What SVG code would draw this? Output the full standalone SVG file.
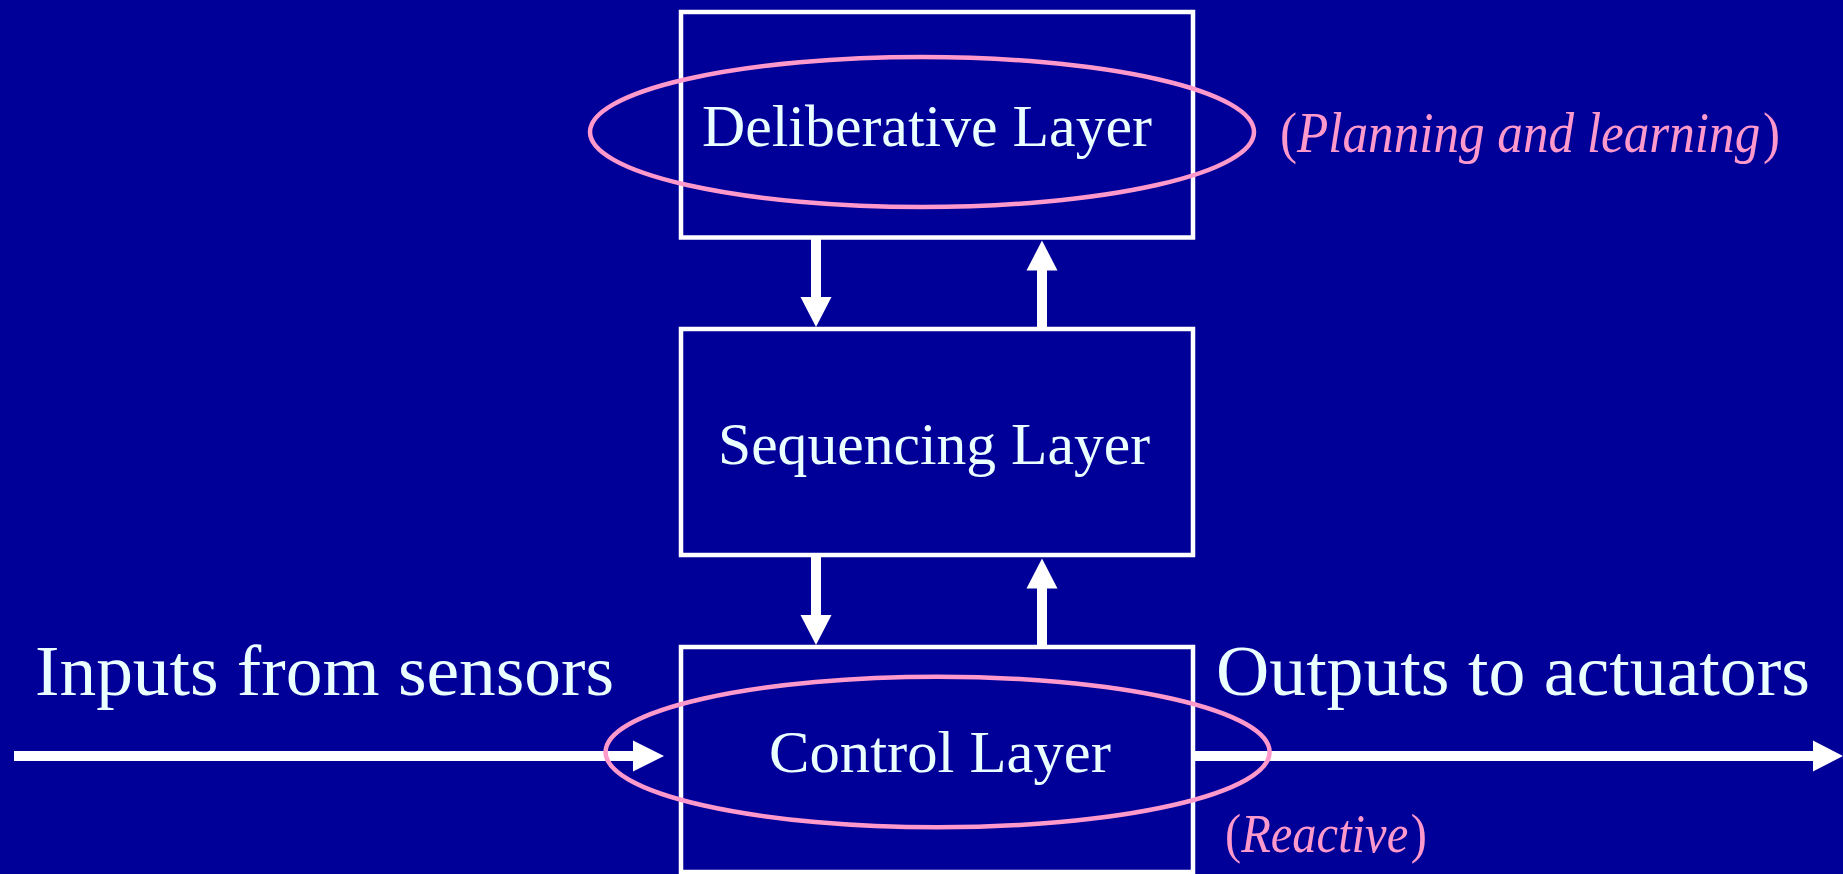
<svg xmlns="http://www.w3.org/2000/svg" width="1843" height="874" viewBox="0 0 1843 874">
  <style>
    .layer { fill: none; stroke: #ffffff; stroke-width: 4.5; }
    .halo { fill: none; stroke: #ff99cc; stroke-width: 4.5; }
    .label { font-family: "Liberation Serif", "Times New Roman", serif; fill: #eaffff; }
    .note { font-family: "Liberation Serif", "Times New Roman", serif; fill: #ff99cc; }
    .shaft { stroke: #ffffff; stroke-width: 10; fill: none; }
    .head { fill: #ffffff; }
    .it { font-style: italic; }
  </style>

  <!-- background -->
  <rect x="0" y="0" width="1843" height="874" fill="#000099"/>

  <!-- connectors between layers and to the outside world -->
  <g id="connectors">
    <!-- deliberative -> sequencing -->
    <line class="shaft" x1="816" y1="239" x2="816" y2="298"/>
    <polygon class="head" points="800.5,297 831.5,297 816,327"/>
    <!-- sequencing -> deliberative -->
    <line class="shaft" x1="1042" y1="269" x2="1042" y2="328"/>
    <polygon class="head" points="1026.5,270.5 1057.5,270.5 1042,240.5"/>
    <!-- sequencing -> control -->
    <line class="shaft" x1="816" y1="556" x2="816" y2="616"/>
    <polygon class="head" points="800.5,615 831.5,615 816,645"/>
    <!-- control -> sequencing -->
    <line class="shaft" x1="1042" y1="587" x2="1042" y2="646"/>
    <polygon class="head" points="1026.5,588.5 1057.5,588.5 1042,558.5"/>
    <!-- sensor input -->
    <line class="shaft" x1="14" y1="756" x2="634" y2="756"/>
    <polygon class="head" points="633,740.5 633,771.5 664,756"/>
    <!-- actuator output -->
    <line class="shaft" x1="1194" y1="756" x2="1814" y2="756"/>
    <polygon class="head" points="1813,740.5 1813,771.5 1843,756"/>
  </g>

  <g id="deliberative">
    <rect class="layer" x="681" y="12" width="512" height="225.5"/>
    <text class="label" x="927" y="146" font-size="60" text-anchor="middle" textLength="450" lengthAdjust="spacingAndGlyphs">Deliberative Layer</text>
  </g>

  <g id="sequencing">
    <rect class="layer" x="681" y="329" width="512" height="226"/>
    <text class="label" x="934" y="463.5" font-size="60" text-anchor="middle" textLength="432" lengthAdjust="spacingAndGlyphs">Sequencing Layer</text>
  </g>

  <g id="control">
    <rect class="layer" x="681" y="647" width="512" height="225"/>
    <text class="label" x="940" y="772" font-size="60" text-anchor="middle" textLength="342" lengthAdjust="spacingAndGlyphs">Control Layer</text>
  </g>

  <g id="inputs">
    <text class="label" x="35" y="695" font-size="72" textLength="579" lengthAdjust="spacingAndGlyphs">Inputs from sensors</text>
  </g>

  <g id="outputs">
    <text class="label" x="1216" y="694.5" font-size="72" textLength="594" lengthAdjust="spacingAndGlyphs">Outputs to actuators</text>
  </g>

  <!-- highlight rings around the deliberative and reactive layers -->
  <g id="planning">
    <ellipse class="halo" cx="922" cy="132" rx="332" ry="75"/>
    <text class="note" x="1280" y="151.5" font-size="56" textLength="500" lengthAdjust="spacingAndGlyphs">(<tspan class="it">Planning and learning</tspan><tspan dx="3">)</tspan></text>
  </g>

  <g id="reactive">
    <ellipse class="halo" cx="937.6" cy="752" rx="332" ry="75.3"/>
    <text class="note" x="1225" y="851.5" font-size="55" textLength="202" lengthAdjust="spacingAndGlyphs">(<tspan class="it">Reactive</tspan><tspan dx="3">)</tspan></text>
  </g>
</svg>
